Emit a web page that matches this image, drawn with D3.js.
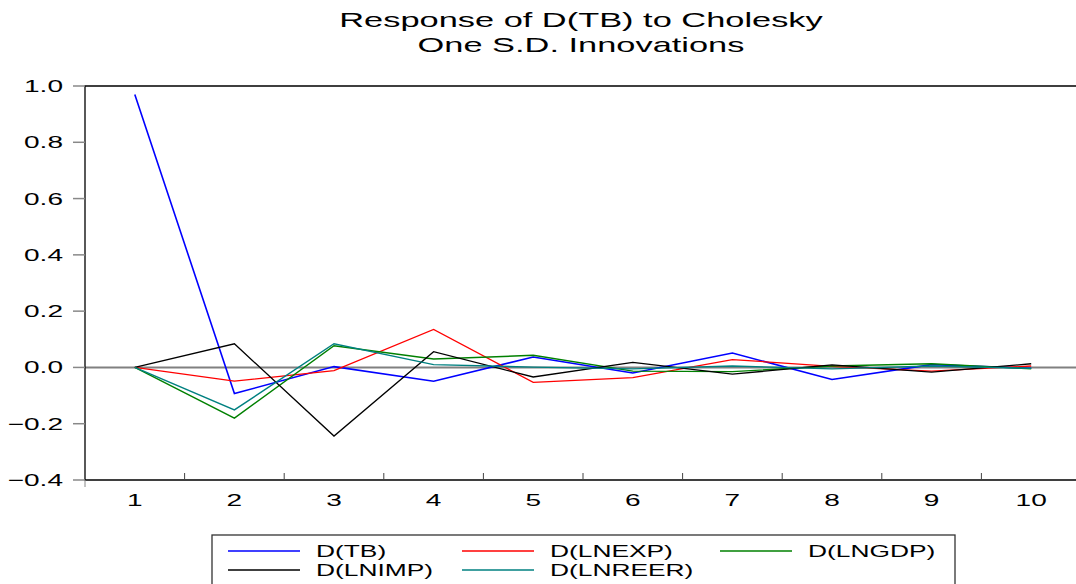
<!DOCTYPE html>
<html>
<head>
<meta charset="utf-8">
<script src="https://cdn.jsdelivr.net/npm/d3@7"></script>
<style>
  body { margin: 0; background: #fff; }
  text { font-family: "Liberation Sans", Arial, sans-serif; fill: #000; }
</style>
</head>
<body>
<div id="chart"></div>
<script>
// periods and impulse responses
var periods = [1, 2, 3, 4, 5, 6, 7, 8, 9, 10];
var dTB     = [0.97, -0.093, 0.003, -0.049, 0.037, -0.020, 0.051, -0.043, 0.010, -0.003];
var dLNEXP  = [0.0, -0.049, -0.011, 0.135, -0.053, -0.036, 0.028, 0.004, -0.013, 0.005];
var dLNGDP  = [0.0, -0.180, 0.077, 0.030, 0.043, -0.013, -0.015, 0.005, 0.013, -0.005];
var dLNIMP  = [0.0, 0.084, -0.244, 0.056, -0.034, 0.018, -0.024, 0.009, -0.017, 0.013];
var dLNREER = [0.0, -0.151, 0.084, 0.010, 0.001, -0.005, 0.005, -0.005, 0.005, -0.003];
var yTicks  = [-0.4, -0.2, 0.0, 0.2, 0.4, 0.6, 0.8, 1.0];
var seriesNames = ["D(TB)", "D(LNEXP)", "D(LNGDP)", "D(LNIMP)", "D(LNREER)"];
var titleLines = ["Response of D(TB) to Cholesky", "One S.D. Innovations"];

var series = [
  {name: seriesNames[0], values: dTB,     color: "#0000ff", w: 1.6},
  {name: seriesNames[1], values: dLNEXP,  color: "#ff0000", w: 1.3},
  {name: seriesNames[2], values: dLNGDP,  color: "#008000", w: 1.4},
  {name: seriesNames[3], values: dLNIMP,  color: "#000000", w: 1.3},
  {name: seriesNames[4], values: dLNREER, color: "#008080", w: 1.4}
];

var W = 1076, H = 584;
var plotL = 85, plotT = 86, plotR = 1081, plotB = 480;
var sx = 1.65; // eviews text is stretched sideways

var svg = d3.select("#chart").append("svg")
    .attr("width", W)
    .attr("height", H);

var x = d3.scaleBand().domain(periods).range([plotL, plotR]).padding(0);
var y = d3.scaleLinear().domain([-0.4, 1.0]).range([plotB, plotT]);

function stretched(g, tx, ty, str, size, anchor, scale) {
  return g.append("text")
    .attr("transform", "translate(" + tx + "," + ty + ") scale(" + (scale || sx) + ",1)")
    .attr("text-anchor", anchor)
    .style("font-size", size + "px")
    .text(str);
}

// title
titleLines.forEach(function(t, i) {
  stretched(svg, 581, 27 + i * 25, t, 20, "middle", 1.72);
});

// zero line
svg.append("line")
    .attr("x1", plotL).attr("x2", W)
    .attr("y1", y(0)).attr("y2", y(0))
    .attr("stroke", "#808080")
    .attr("stroke-width", 2);

// frame: top, left, bottom
svg.append("path")
    .attr("d", "M" + W + "," + y(1.0) + "H" + plotL + "V" + y(-0.4) + "H" + W)
    .attr("fill", "none")
    .attr("stroke", "#000")
    .attr("stroke-width", 1.3);

// y axis ticks and labels
var yAxis = svg.append("g");
yTicks.forEach(function(t) {
  yAxis.append("line")
    .attr("x1", plotL - 12).attr("x2", plotL)
    .attr("y1", y(t)).attr("y2", y(t))
    .attr("stroke", "#888").attr("stroke-width", 1.5);
  stretched(yAxis, 63, y(t) + 6, d3.format(".1f")(t), 17, "end");
});

// x axis ticks and labels
var xAxis = svg.append("g");
periods.forEach(function(p, i) {
  if (i > 0) {
    xAxis.append("line")
      .attr("x1", x(p)).attr("x2", x(p))
      .attr("y1", plotB - 7).attr("y2", plotB)
      .attr("stroke", "#444").attr("stroke-width", 1);
  }
  stretched(xAxis, x(p) + x.bandwidth() / 2, 506, String(p), 17, "middle");
});
xAxis.append("line")
    .attr("x1", plotL).attr("x2", plotL)
    .attr("y1", plotB).attr("y2", plotB + 7)
    .attr("stroke", "#888").attr("stroke-width", 1);

// response lines
var line = d3.line()
    .x(function(d, i) { return x(periods[i]) + x.bandwidth() / 2; })
    .y(function(d) { return y(d); });

svg.selectAll(".irf")
    .data(series)
    .enter().append("path")
    .attr("class", "irf")
    .attr("d", function(d) { return line(d.values); })
    .attr("fill", "none")
    .attr("stroke", function(d) { return d.color; })
    .attr("stroke-width", function(d) { return d.w; })
    .attr("stroke-linejoin", "miter");

// legend
var legend = svg.append("g");
legend.append("rect")
    .attr("x", 212).attr("y", 535)
    .attr("width", 743).attr("height", 60)
    .attr("fill", "#fff")
    .attr("stroke", "#333")
    .attr("stroke-width", 1.3);

var colX = [228, 462, 720];
var legendG = legend.selectAll(".leg")
    .data(series)
    .enter().append("g")
    .attr("class", "leg")
    .attr("transform", function(d, i) {
      return "translate(" + colX[i % 3] + "," + (551 + Math.floor(i / 3) * 19) + ")";
    });

legendG.append("line")
    .attr("x1", 0).attr("x2", 72)
    .attr("stroke", function(d) { return d.color; })
    .attr("stroke-width", 1.5);

legendG.each(function(d) {
  stretched(d3.select(this), 88, 6, d.name, 17, "start", 1.55);
});
</script>
</body>
</html>
